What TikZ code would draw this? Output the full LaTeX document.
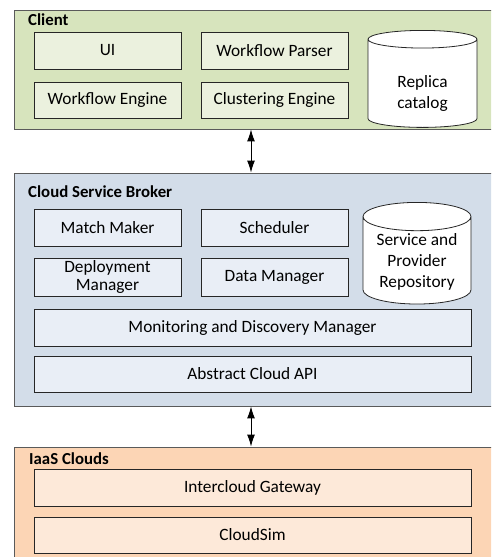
\documentclass[tikz,border=0pt]{standalone}
\usepackage{fontspec}
\setmainfont{Carlito}
\usetikzlibrary{shapes.geometric,arrows.meta,shadows}
\definecolor{clientbg}{HTML}{D7E4BD}
\definecolor{clientin}{HTML}{EBF1DE}
\definecolor{brokerbg}{HTML}{D3DDE9}
\definecolor{brokerin}{HTML}{E9EEF6}
\definecolor{iaasbg}{HTML}{FCD5B5}
\definecolor{iaasin}{HTML}{FDE9D9}
\definecolor{edge}{HTML}{5A5A5A}
\tikzset{
  layer/.style={draw=edge, line width=0.9pt, rectangle, inner sep=0pt},
  comp/.style={draw=black!85, line width=0.8pt, rectangle, inner sep=0pt,
    align=center, font=\fontsize{17.3}{19}\selectfont,
    drop shadow={shadow xshift=0.9pt, shadow yshift=-0.9pt, fill=black!45, opacity=1}},
  store/.style={draw=black!85, line width=0.8pt, fill=white, cylinder,
    shape border rotate=90, aspect=0.35, inner sep=0pt, align=center,
    anchor=north, font=\fontsize{17.3}{21}\selectfont},
  title/.style={anchor=west, inner sep=0pt, font=\bfseries\fontsize{16.8}{18}\selectfont},
  link/.style={{Latex[length=12pt,width=8pt]}-{Latex[length=12pt,width=8pt]}, line width=1pt}
}
\begin{document}
\begin{tikzpicture}[x=1pt,y=-1pt]
\clip (0,0) rectangle (491,557);
\fill[white] (0,0) rectangle (491,557);

% Client layer
\node[layer, fill=clientbg, minimum width=486pt, minimum height=119pt] (client) at (257,69.5) {};
\node[title] (clientT) at (28,20) {Client};
\node[comp, fill=clientin, minimum width=147pt, minimum height=37pt] (ui) at (107.5,50.5) {UI};
\node[comp, fill=clientin, minimum width=147pt, minimum height=37pt] (wfp) at (274.5,50.5) {Workflow Parser};
\node[comp, fill=clientin, minimum width=147pt, minimum height=36pt] (wfe) at (107.5,100) {Workflow Engine};
\node[comp, fill=clientin, minimum width=147pt, minimum height=36pt] (clu) at (274.5,100) {Clustering Engine};
\node[store, minimum width=109pt, minimum height=97pt] (rep) at (422.5,30) {\mbox{}\\[10pt]Replica\\catalog};

% Cloud Service Broker layer
\node[layer, fill=brokerbg, minimum width=486pt, minimum height=233pt] (broker) at (257,289.5) {};
\node[title] (brokerT) at (28,192) {Cloud Service Broker};
\node[comp, fill=brokerin, minimum width=147pt, minimum height=37pt] (mm) at (107.5,227.5) {Match Maker};
\node[comp, fill=brokerin, minimum width=147pt, minimum height=37pt] (sch) at (274.5,227.5) {Scheduler};
\node[comp, fill=brokerin, minimum width=147pt, minimum height=38pt] (dep) at (107.5,277) {Deployment\\[-1pt]Manager};
\node[comp, fill=brokerin, minimum width=147pt, minimum height=38pt] (dm) at (274.5,277) {Data Manager};
\node[store, minimum width=108pt, minimum height=94pt] (spr) at (417,202) {\mbox{}\\[-7pt]Service and\\Provider\\Repository};
\node[comp, fill=brokerin, minimum width=437pt, minimum height=37pt] (mdm) at (252.5,327.5) {Monitoring and Discovery Manager};
\node[comp, fill=brokerin, minimum width=437pt, minimum height=36pt] (api) at (252.5,374) {Abstract Cloud API};

% IaaS Clouds layer
\node[layer, fill=iaasbg, minimum width=486pt, minimum height=130pt] (iaas) at (257,512) {};
\node[title] (iaasT) at (29,459) {IaaS Clouds};
\node[comp, fill=iaasin, minimum width=437pt, minimum height=37pt] (gw) at (252.5,487.5) {Intercloud Gateway};
\node[comp, fill=iaasin, minimum width=437pt, minimum height=36pt] (sim) at (252.5,535) {CloudSim};

% Links between layers
\coordinate (axis) at (251,0);
\draw[link] (axis |- client.south) -- (axis |- broker.north);
\draw[link] (axis |- broker.south) -- (axis |- iaas.north);
\end{tikzpicture}
\end{document}
